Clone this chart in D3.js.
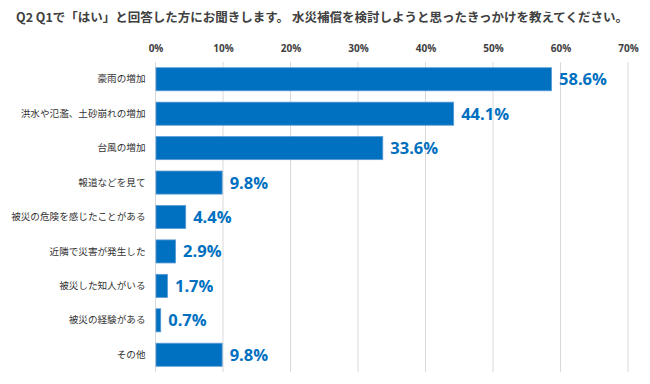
<!DOCTYPE html>
<html>
<head>
<meta charset="utf-8">
<script src="https://cdn.jsdelivr.net/npm/d3@7"></script>
<style>
body { margin:0; background:#fff; }
svg { display:block; font-family:"Noto Sans CJK JP", "Noto Sans", sans-serif; }
</style>
</head>
<body>
<svg class="myChart" width="650" height="384"></svg>
<script>
const title = "Q2 Q1で「はい」と回答した方にお聞きします。 水災補償を検討しようと思ったきっかけを教えてください。";
const categories = ["豪雨の増加", "洪水や氾濫、土砂崩れの増加", "台風の増加", "報道などを見て", "被災の危険を感じたことがある", "近隣で災害が発生した", "被災した知人がいる", "被災の経験がある", "その他"];
const values = [58.6, 44.1, 33.6, 9.8, 4.4, 2.9, 1.7, 0.7, 9.8];
const ticks = [0, 10, 20, 30, 40, 50, 60, 70];

const margin = {top:62, right:22, left:155.5, bottom:12};
const svg = d3.select('svg.myChart');
const innerWidth = 650 - margin.left - margin.right;
const innerHeight = 384 - margin.top - margin.bottom;

const data = categories.map((c, i) => ({cat:c, val:values[i]}));

svg.append('text')
  .attr('x', 16).attr('y', 22)
  .attr('font-size', 12.5).attr('font-weight', 'bold').attr('fill', '#404040')
  .text(title);

const xScale = d3.scaleLinear().domain([0, 70]).range([0, innerWidth]);
const yScale = d3.scaleBand().domain(categories).range([0, innerHeight])
  .paddingInner(0.33).paddingOuter(0.166);

const g = svg.append('g').attr('transform', `translate(${margin.left}, ${margin.top})`);

// vertical grid lines
g.selectAll('.grid').data(ticks).enter().append('line')
  .attr('class', 'grid')
  .attr('x1', d => xScale(d)).attr('x2', d => xScale(d))
  .attr('y1', 0).attr('y2', innerHeight)
  .attr('stroke', '#d9d9d9').attr('stroke-width', 1);

const xAxis = d3.axisTop(xScale).tickValues(ticks).tickFormat(d => d + '%').tickSize(0).tickPadding(10);
const xg = g.append('g').call(xAxis);
xg.select('.domain').remove();
xg.selectAll('text').attr('font-size', 10).attr('font-weight', 'bold').attr('fill', '#404040')
  .attr('font-family', '"Open Sans", "Noto Sans", sans-serif');

const yAxis = d3.axisLeft(yScale).tickSize(0).tickPadding(10);
const yg = g.append('g').call(yAxis);
yg.select('.domain').remove();
yg.selectAll('text').attr('font-size', 9.6).attr('fill', '#333')
  .attr('font-family', '"Noto Sans CJK JP", sans-serif');

g.selectAll('rect').data(data).enter().append('rect')
  .attr('x', 0.5)
  .attr('y', d => yScale(d.cat))
  .attr('width', d => xScale(d.val))
  .attr('height', yScale.bandwidth())
  .attr('fill', '#0070c0')
  .attr('stroke', '#5b9bd5').attr('stroke-width', 0.8);

g.selectAll('.label').data(data).enter().append('text')
  .attr('class', 'label')
  .attr('x', d => xScale(d.val) + 8)
  .attr('y', d => yScale(d.cat) + yScale.bandwidth() / 2)
  .attr('dy', '0.36em')
  .attr('font-size', 16.5).attr('font-weight', 'bold').attr('fill', '#0070c0')
  .attr('font-family', '"Open Sans", "Noto Sans", sans-serif')
  .text(d => d.val.toFixed(1) + '%');
</script>
</body>
</html>
